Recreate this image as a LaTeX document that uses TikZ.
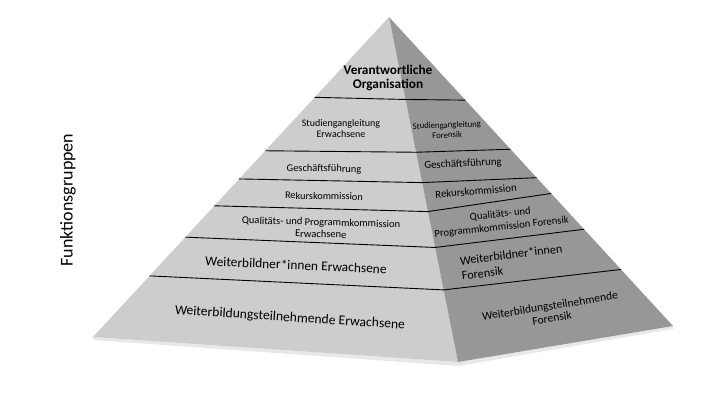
\documentclass[tikz,border=0pt]{standalone}
\usepackage{fontspec}
\setmainfont{Carlito}
\usetikzlibrary{calc}
\definecolor{leftface}{HTML}{CDCDCD}
\definecolor{rightface}{HTML}{979797}
\definecolor{shadowband}{HTML}{E8E8E8}
\tikzset{
  divline/.style={draw=black, line width=0.9pt},
  lbl/.style={inner sep=0pt, align=center, text=black},
}
\begin{document}
\begin{tikzpicture}[x=1pt,y=-1pt]
\useasboundingbox (0,0) rectangle (720,405);
\coordinate (A) at (389,17);
\coordinate (BL) at (93,337);
\coordinate (BF) at (458,362);
\coordinate (BR) at (673,326);
% bottom band
\fill[shadowband] (BL) -- (BF) -- (BR) -- ($(BR)+(0,3)$) -- ($(BF)+(0,4)$) -- ($(BL)+(0,3)$) -- cycle;
% faces
\fill[leftface] (A) -- (BL) -- (BF) -- cycle;
\fill[rightface] (A) -- (BF) -- (BR) -- cycle;
% dividing lines
\foreach \l/\c/\r [count=\i] in {0.251/0.239/0.269, 0.418/0.392/0.428, 0.506/0.480/0.520, 0.590/0.564/0.571, 0.688/0.668/0.687, 0.809/0.791/0.817} {
  \coordinate (l\i) at ($(A)!\l!(BL)$);
  \coordinate (c\i) at ($(A)!\c!(BF)$);
  \coordinate (r\i) at ($(A)!\r!(BR)$);
  \draw[divline] (l\i) -- (c\i) -- (r\i);
}
% left texts
\node[lbl, font=\bfseries\fontsize{13.3}{14.5}\selectfont] (org) at (388,78) {Verantwortliche\\Organisation};
\node[lbl, font=\fontsize{10}{11}\selectfont] (sgl) at (341,129) {Studiengangleitung\\Erwachsene};
\node[lbl, font=\fontsize{10.4}{12}\selectfont, rotate=-1] (gf) at (324,169) {Geschäftsführung};
\node[lbl, font=\fontsize{10.3}{12}\selectfont, rotate=-1] (rk) at (324,196) {Rekurskommission};
\node[lbl, font=\fontsize{10.5}{12}\selectfont, rotate=-1.5] (qpk) at (321,228) {Qualitäts- und Programmkommission\\Erwachsene};
\node[lbl, font=\fontsize{13.4}{15}\selectfont, rotate=-2.5] (wbi) at (296,265) {Weiterbildner*innen Erwachsene};
\node[lbl, font=\fontsize{13.6}{15}\selectfont, rotate=-3.7] (wbt) at (290,318) {Weiterbildungsteilnehmende Erwachsene};
% right texts
\node[lbl, font=\fontsize{8.7}{10}\selectfont, rotate=2] (sglF) at (447,130) {Studiengangleitung\\Forensik};
\node[lbl, font=\fontsize{10.8}{12}\selectfont, rotate=3] (gfF) at (463,164) {Geschäftsführung};
\node[lbl, font=\fontsize{10.8}{12}\selectfont, rotate=5] (rkF) at (476,191) {Rekurskommission};
\node[lbl, font=\fontsize{10.6}{13}\selectfont, rotate=6] (qpkF) at (501,221) {Qualitäts- und\\Programmkommission Forensik};
\node[lbl, font=\fontsize{12.2}{15}\selectfont, rotate=7, align=left] (wbiF) at (512,262) {Weiterbildner*innen\\Forensik};
\node[lbl, font=\fontsize{11.6}{12.5}\selectfont, rotate=9] (wbtF) at (551,312) {Weiterbildungsteilnehmende\\Forensik};
% side label
\node[lbl, font=\fontsize{18}{20}\selectfont, rotate=90] (fg) at (68,200) {Funktionsgruppen};
\end{tikzpicture}
\end{document}
